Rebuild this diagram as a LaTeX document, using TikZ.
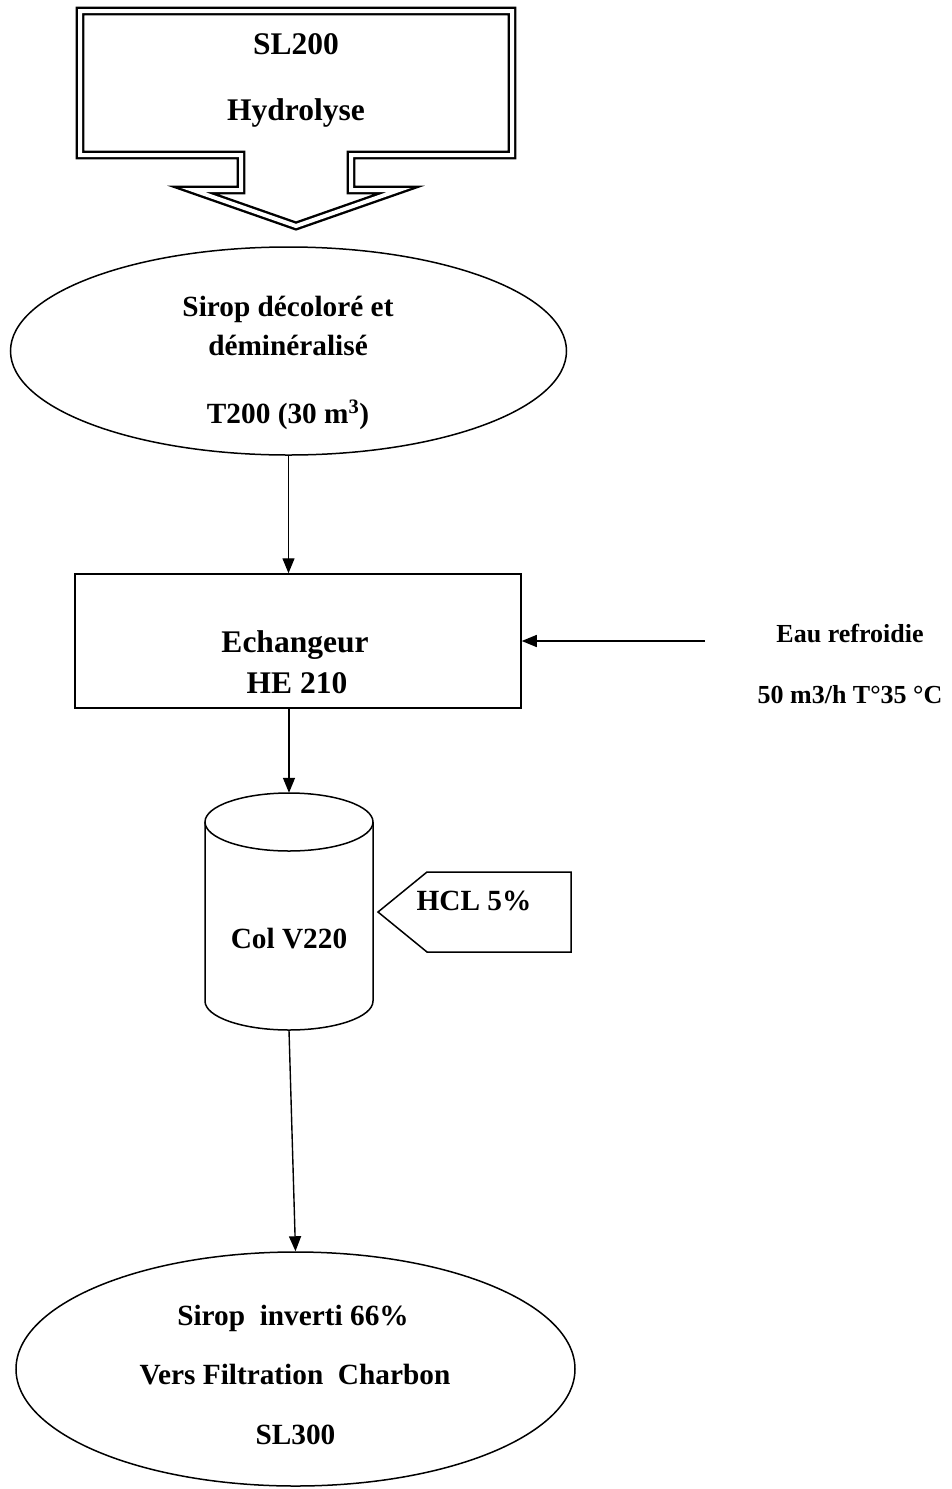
\documentclass[tikz,border=0pt]{standalone}
\usepackage{fontspec}
\setmainfont{Liberation Serif}
\usetikzlibrary{arrows.meta,shapes.geometric}

\tikzset{
  ln/.style={line width=1.5pt},
  arr/.style={line width=1.4pt, -{Triangle[length=15pt,width=12pt]}},
  big/.style={font=\fontsize{31.5}{36}\selectfont\bfseries},
  mid/.style={font=\fontsize{29.3}{34}\selectfont\bfseries},
  small/.style={font=\fontsize{26}{30}\selectfont\bfseries},
  txt/.style={anchor=base, inner sep=0pt},
  blockarrow/.style={draw, double, double distance=4pt, line width=2.4pt, miter limit=12},
}

\begin{document}
\begin{tikzpicture}[x=1pt, y=-1pt]
  \useasboundingbox (0,0) rectangle (951,1489);

  % hydrolysis unit, drawn as a double-lined block arrow
  \draw[blockarrow] (80,11) -- (512,11) -- (512,155) -- (351,155) -- (351,190)
    -- (399,190) -- (296,226) -- (193,190) -- (241,190) -- (241,155)
    -- (80,155) -- cycle;
  \node[txt, big] (sl200) at (296,54) {SL200};
  \node[txt, big] (hydro) at (296,120) {Hydrolyse};

  % storage tank T200
  \node[draw, ln, ellipse, minimum width=556, minimum height=208, inner sep=0pt] (sirop) at (288.5,351) {};
  \node[txt, mid] (s1) at (288,316) {Sirop décoloré et};
  \node[txt, mid] (s2) at (288,355) {déminéralisé};
  \node[txt, mid] (s3) at (288,423) {T200 (30 m\textsuperscript{3})};

  % heat exchanger
  \node[draw, ln, rectangle, minimum width=446, minimum height=134, inner sep=0pt] (ech) at (298,641) {};
  \node[txt, big] (e1) at (295,652) {Echangeur};
  \node[txt, big] (e2) at (297,693) {HE 210};

  % cooling water
  \coordinate (eau) at (705,641);
  \node[txt, small] (w1) at (850,642) {Eau refroidie};
  \node[txt, small] (w2) at (850,703) {50 m3/h T°35 °C};

  % column V220
  \node[minimum width=168, minimum height=237, inner sep=0pt] (col) at (289,911.5) {};
  \draw[ln] (289,822) ellipse[x radius=84, y radius=29];
  \draw[ln] (205,822) -- (205,1001) arc[start angle=180, end angle=0, x radius=84, y radius=29] -- (373,822);
  \node[txt, mid] (c1) at (289,948) {Col V220};

  % acid feed
  \draw[ln] (378,912) -- (427,872) -- (571,872) -- (571,952) -- (427,952) -- cycle;
  \node[txt, mid] (hcl) at (474,910) {HCL 5\%};

  % inverted syrup
  \node[draw, ln, ellipse, minimum width=559, minimum height=234, inner sep=0pt] (inv) at (295.5,1369) {};
  \node[txt, mid] (i1) at (293,1325) {Sirop\ \ inverti 66\%};
  \node[txt, mid] (i2) at (295,1384) {Vers Filtration\ \ Charbon};
  \node[txt, mid] (i3) at (295.5,1444) {SL300};

  % flow connectors
  \draw[arr] (sirop.south) -- (sirop.south |- ech.north);
  \draw[arr] (col.north |- ech.south) -- (col.north);
  \draw[arr] (col.south) -- (inv.north);
  \draw[arr] (eau) -- (ech.east);
\end{tikzpicture}
\end{document}
